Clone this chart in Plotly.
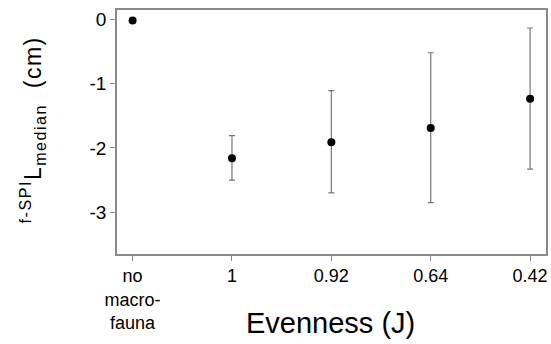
import plotly.graph_objects as go

categories = ["no<br>macro-<br>fauna", "1", "0.92", "0.64", "0.42"]
medians = [-0.02, -2.16, -1.91, -1.69, -1.235]
upper = [None, -1.81, -1.11, -0.52, -0.135]
lower = [None, -2.50, -2.70, -2.85, -2.33]

xpos = list(range(len(categories)))
err_plus = [0 if u is None else u - m for u, m in zip(upper, medians)]
err_minus = [0 if l is None else m - l for l, m in zip(lower, medians)]

fig = go.Figure()
fig.add_trace(go.Scatter(
    x=xpos, y=medians, mode="markers",
    marker=dict(color="black", size=8),
    error_y=dict(type="data", symmetric=False, array=err_plus, arrayminus=err_minus,
                 color="#777777", thickness=1.2, width=3),
    showlegend=False,
))

W, H = 551, 344
L, R, T, B = 117, 3, 10, 90
ytitle = ('<span style="letter-spacing:1.5px"><sup>f-SPI</sup>'
          'L<sub>median</sub>  (cm)</span>')
fig.update_layout(
    width=W, height=H,
    margin=dict(l=L, r=R, t=T, b=B),
    plot_bgcolor="white", paper_bgcolor="white",
    font=dict(family="Liberation Sans, Arial, sans-serif", color="black"),
    xaxis=dict(
        range=[-0.157, 4.16], tickmode="array", tickvals=xpos, ticktext=categories,
        showgrid=False, zeroline=False, showline=True, linecolor="#8a8a8a", linewidth=1.5,
        mirror=True, ticks="outside", ticklen=5, tickcolor="#8a8a8a",
        tickfont=dict(size=18),
    ),
    yaxis=dict(
        range=[-3.65, 0.145], tickvals=[0, -1, -2, -3], ticktext=["0", "-1", "-2", "-3"],
        showgrid=False, zeroline=False, showline=True, linecolor="#8a8a8a", linewidth=1.5,
        mirror=True, ticks="outside", ticklen=5, tickcolor="#8a8a8a",
        tickfont=dict(size=19),
    ),
    annotations=[
        dict(text="Evenness (J)", xref="paper", yref="paper",
             x=(331.7 - L) / (W - L - R), y=-(323 - (H - B)) / (H - T - B),
             xanchor="center", yanchor="middle", showarrow=False,
             font=dict(size=29)),
        dict(text=ytitle, xref="paper", yref="paper",
             x=-(L - 32) / (W - L - R), y=((H - B) - 130) / (H - T - B),
             xanchor="center", yanchor="middle", showarrow=False, textangle=-90,
             font=dict(size=23)),
    ],
)

fig.write_html("out.html", config={"displayModeBar": False},
               post_script="document.body.style.margin='0';document.body.style.overflow='hidden';")
